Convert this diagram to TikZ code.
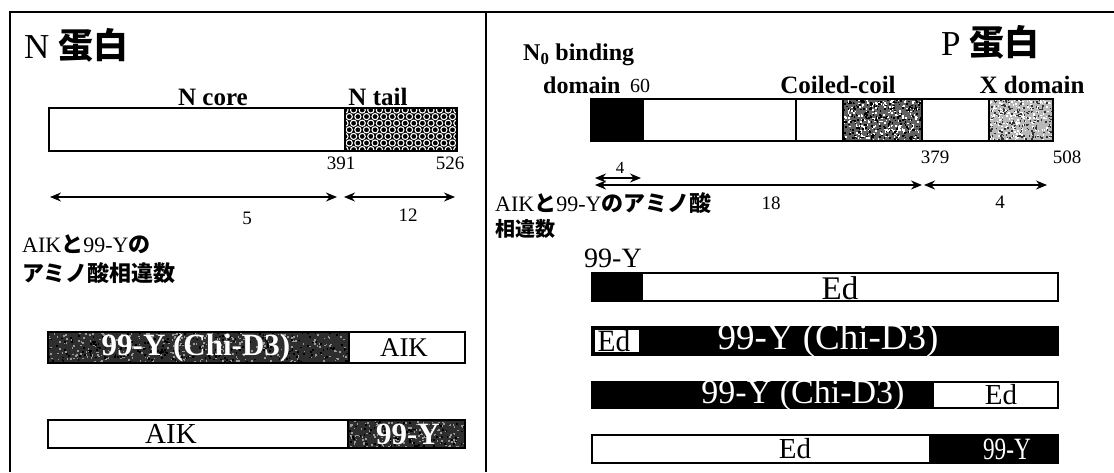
\documentclass[tikz,border=0pt]{standalone}
\usepackage{fontspec}
\setmainfont{Liberation Serif}
\newfontfamily\jp{Noto Sans CJK JP}
\usetikzlibrary{arrows.meta}
\newcommand{\fsz}[1]{\fontsize{#1}{#1}\selectfont}
% \speck{x0}{y0}{w}{h}{base}{dot colour}{count}
\newcommand{\speck}[7]{%
  \fill[#5] (#1,#2) rectangle ++(#3,#4);
  \foreach \k in {1,...,#7}{%
    \pgfmathsetmacro{\rx}{#1+rnd*(#3-1.6)}%
    \pgfmathsetmacro{\ry}{#2+rnd*(#4-1.6)}%
    \fill[#6] (\rx,\ry) rectangle ++(1.6,1.6);
  }}
\begin{document}
\begin{tikzpicture}[x=1pt,y=-1pt,
  frame/.style={line width=2pt,black},
  seg/.style={line width=1.4pt,black},
  lbl/.style={inner sep=0pt,font=\fsz{19}},
  bold/.style={inner sep=0pt,font=\fsz{25}\bfseries},
  jptxt/.style={inner sep=0pt,anchor=west,font=\fsz{22}},
  dim/.style={line width=1.5pt,{Stealth[length=11pt,width=9pt]}-{Stealth[length=11pt,width=9pt]}},
  intext/.style={inner sep=0pt}]
\useasboundingbox (0,0) rectangle (1114,472);
\fill[white] (0,0) rectangle (1114,472);
\pgfmathsetseed{7}

% ---------- frame ----------
\draw[frame] (10,472) -- (10,12) -- (1114,12);
\draw[frame] (486,12) -- (486,472);

% ================= N panel =================
\node[anchor=west,inner sep=0pt,font=\fsz{35}] (ntitle) at (24,45) {N {\jp\bfseries 蛋白}};
\node[bold] (ncorel) at (213,97) {N core};
\node[bold] (ntaill) at (378,97) {N tail};

% N bar
\draw[seg,fill=white] (49,108) rectangle (345,151);
\begin{scope}
  \clip (345,108) rectangle (457,151);
  \fill[black] (345,108) rectangle (457,151);
  \foreach \r in {0,...,6}{\foreach \c in {0,...,13}{%
    \pgfmathsetmacro{\cx}{345+\c*8.6+mod(\r,2)*4.3}%
    \pgfmathsetmacro{\cy}{110+\r*6.6}%
    \draw[white,line width=1.1pt] (\cx,\cy) circle[radius=3.1pt];
  }}
\end{scope}
\draw[seg] (345,108) rectangle (457,151);

\node[lbl] (n391) at (341,163) {391};
\node[lbl] (n526) at (450,163) {526};

\coordinate (na1s) at (50,197);  \coordinate (na1e) at (337,197);
\coordinate (na2s) at (344,197); \coordinate (na2e) at (455,197);
\draw[dim] (na1s) -- (na1e);
\draw[dim] (na2s) -- (na2e);
\node[lbl] (n5) at (247,218) {5};
\node[lbl] (n12) at (408,215) {12};

\node[jptxt] (njp1) at (22,244) {AIK{\jp\bfseries と}99-Y{\jp\bfseries の}};
\node[jptxt] (njp2) at (22,273) {\jp\bfseries アミノ酸相違数};

% bar 2 (99-Y (Chi-D3) | AIK)
\speck{48}{332}{301}{31}{black!82}{black!40}{330}
\foreach \k in {1,...,250}{%
  \pgfmathsetmacro{\rx}{48+rnd*299}\pgfmathsetmacro{\ry}{332+rnd*29}%
  \fill[black] (\rx,\ry) rectangle ++(1.8,1.8);}
\draw[seg] (48,332) rectangle (349,363);
\draw[seg,fill=white] (349,332) rectangle (465,363);
\node[intext,white,font=\fsz{31}\bfseries] (nb2l) at (196,348) {99-Y (Chi-D3)};
\node[intext,font=\fsz{27}] (nb2r) at (404,348) {AIK};

% bar 3 (AIK | 99-Y)
\draw[seg,fill=white] (48,420) rectangle (348,448);
\speck{348}{420}{117}{28}{black!82}{black!40}{140}
\foreach \k in {1,...,100}{%
  \pgfmathsetmacro{\rx}{348+rnd*115}\pgfmathsetmacro{\ry}{420+rnd*26}%
  \fill[black] (\rx,\ry) rectangle ++(1.8,1.8);}
\draw[seg] (348,420) rectangle (465,448);
\node[intext,font=\fsz{29}] (nb3l) at (171,434) {AIK};
\node[intext,white,font=\fsz{31}\bfseries] (nb3r) at (408,434) {99-Y};

% ================= P panel =================
\node[anchor=west,inner sep=0pt,font=\fsz{35}] (ptitle) at (941,42) {P {\jp\bfseries 蛋白}};
\node[anchor=west,inner sep=0pt,font=\fsz{24}\bfseries] (pn0) at (523,55) {N\textsubscript{0} binding};
\node[anchor=west,inner sep=0pt,font=\fsz{24}\bfseries] (pdom) at (543,85) {domain};
\node[lbl,font=\fsz{20}] (p60) at (640,86) {60};
\node[bold] (pcc) at (838,85) {Coiled-coil};
\node[bold] (pxd) at (1032,85) {X domain};

% P bar
\draw[seg,fill=black] (591,99) rectangle (643,141);
\draw[seg,fill=white] (643,99) rectangle (796,141);
\draw[seg,fill=white] (796,99) rectangle (843,141);
\speck{843}{99}{79}{42}{black!62}{white}{260}
\foreach \k in {1,...,260}{%
  \pgfmathsetmacro{\rx}{843+rnd*77}\pgfmathsetmacro{\ry}{99+rnd*40}%
  \fill[black] (\rx,\ry) rectangle ++(1.6,1.6);}
\draw[seg] (843,99) rectangle (922,141);
\draw[seg,fill=white] (922,99) rectangle (989,141);
\speck{989}{99}{64}{42}{black!28}{white}{200}
\foreach \k in {1,...,200}{%
  \pgfmathsetmacro{\rx}{989+rnd*62}\pgfmathsetmacro{\ry}{99+rnd*40}%
  \fill[black!80] (\rx,\ry) rectangle ++(1.5,1.5);}
\draw[seg] (989,99) rectangle (1053,141);

\node[lbl] (p379) at (935,157) {379};
\node[lbl] (p508) at (1067,157) {508};

\coordinate (pa0s) at (595,178); \coordinate (pa0e) at (641,178);
\coordinate (pa1s) at (595,185); \coordinate (pa1e) at (922,185);
\coordinate (pa2s) at (924,185); \coordinate (pa2e) at (1047,185);
\draw[dim] (pa0s) -- (pa0e);
\draw[dim] (pa1s) -- (pa1e);
\draw[dim] (pa2s) -- (pa2e);
\node[lbl,font=\fsz{17}] (p4a) at (620,168) {4};
\node[lbl] (p18) at (771,203) {18};
\node[lbl] (p4b) at (1000,202) {4};

\node[jptxt] (pjp1) at (495,203) {AIK{\jp\bfseries と}99-Y{\jp\bfseries のアミノ酸}};
\node[jptxt,font=\fsz{20}] (pjp2) at (495,229) {\jp\bfseries 相違数};

% chimera bars
\node[intext,font=\fsz{28}] (p99y) at (613,258) {99-Y};
% b1
\draw[seg,fill=black] (592,273) rectangle (642,301);
\draw[seg,fill=white] (642,273) rectangle (1058,301);
\node[intext,font=\fsz{33}] (pb1r) at (840,288) {Ed};
% b2
\draw[seg,fill=black] (592,327) rectangle (1058,355);
\draw[seg,fill=white] (594,329) rectangle (640,353);
\node[intext,font=\fsz{31},xscale=0.95] (pb2l) at (614,341) {Ed};
\node[intext,white,font=\fsz{37}] (pb2r) at (828,341) {99-Y (Chi-D3)};
% b3
\draw[seg,fill=black] (592,382) rectangle (933,408);
\draw[seg,fill=white] (933,382) rectangle (1058,408);
\node[intext,white,font=\fsz{34}] (pb3l) at (803,395) {99-Y (Chi-D3)};
\node[intext,font=\fsz{29}] (pb3r) at (1001,395) {Ed};
% b4
\draw[seg,fill=white] (592,435) rectangle (930,463);
\draw[seg,fill=black] (930,435) rectangle (1058,463);
\node[intext,font=\fsz{29}] (pb4l) at (795,449) {Ed};
\node[intext,white,font=\fsz{31},xscale=0.75] (pb4r) at (1007,449) {99-Y};
\end{tikzpicture}
\end{document}
